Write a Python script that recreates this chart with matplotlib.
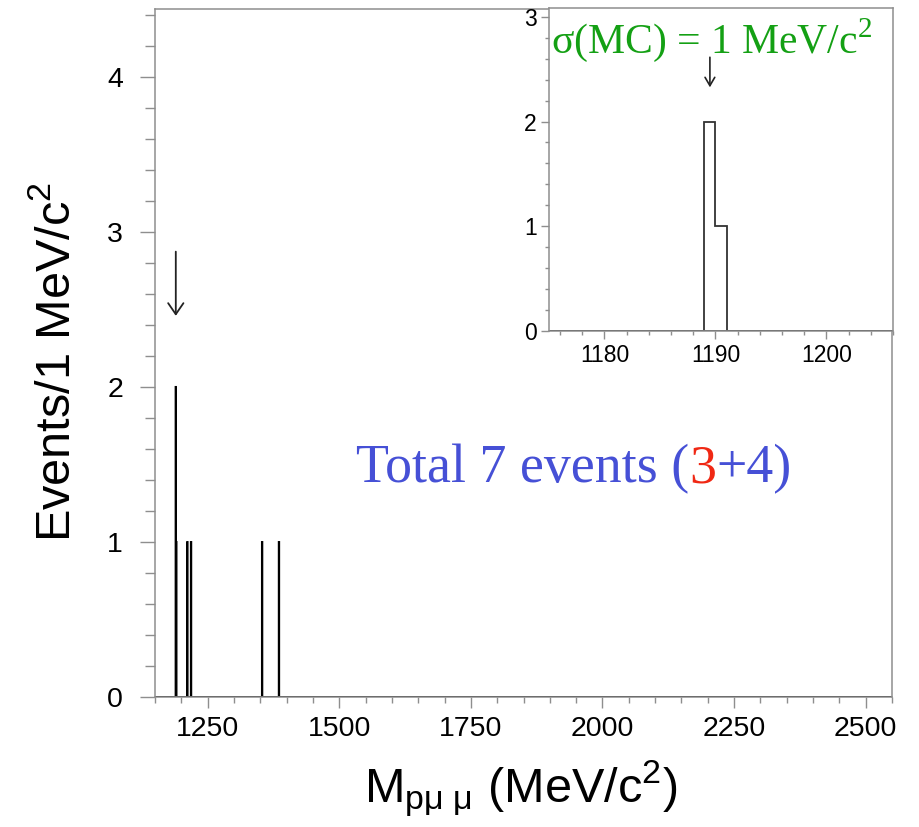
import numpy as np
import matplotlib
matplotlib.use('Agg')
import matplotlib.pyplot as plt
from matplotlib import transforms
from matplotlib.ticker import MultipleLocator

# reconstructed event masses (MeV/c^2)
masses = [1189.3, 1189.7, 1190.4, 1211.5, 1218.5, 1353.5, 1385.5]

main_range = (1150, 2550)
inset_range = (1175, 1206)
main_xticks = [1250, 1500, 1750, 2000, 2250, 2500]
main_yticks = [0, 1, 2, 3, 4]
inset_xticks = [1180, 1190, 1200]
inset_yticks = [0, 1, 2, 3]

W, H = 919, 827
frame_col = '#8e8e8e'

plt.rcParams['font.family'] = ['Liberation Sans', 'DejaVu Sans']
plt.rcParams['mathtext.fontset'] = 'custom'
plt.rcParams['mathtext.rm'] = 'Liberation Sans'
plt.rcParams['mathtext.it'] = 'Liberation Sans:italic'

fig = plt.figure(figsize=(W / 100, H / 100), dpi=100)

def px_axes(l, t, r, b):
    return fig.add_axes([l / W, 1 - b / H, (r - l) / W, (b - t) / H])

def style_frame(ax, labsize, majlen, minlen, pad):
    for s in ax.spines.values():
        s.set_color(frame_col)
        s.set_linewidth(1.1)
    ax.tick_params(which='both', direction='out', color=frame_col, width=1.0,
                   labelsize=labsize, pad=pad)
    ax.tick_params(which='major', length=majlen)
    ax.tick_params(which='minor', length=minlen)
    ax.tick_params(top=False, right=False)


# main histogram
ax = px_axes(155, 8.5, 892, 697)
edges = np.arange(main_range[0], main_range[1] + 1, 1)
counts, _ = np.histogram(masses, bins=edges)
ax.stairs(counts, edges, color='black', lw=1.3, baseline=None)
ax.plot([edges[0], edges[-1]], [0, 0], color='black', lw=1.3)
ax.set_xlim(*main_range)
ax.set_ylim(0, 4.44)
ax.set_xticks(main_xticks)
ax.set_yticks(main_yticks)
ax.xaxis.set_minor_locator(MultipleLocator(50))
ax.yaxis.set_minor_locator(MultipleLocator(0.2))
style_frame(ax, 20.5, 8, 4.5, 6)
ax.tick_params(axis='y', which='major', length=11)
ax.tick_params(axis='y', which='minor', length=7)
ax.tick_params(axis='y', pad=12)

ax.annotate('', xy=(1189.5, 2.44), xytext=(1189.5, 2.89),
            arrowprops=dict(arrowstyle='->,head_length=0.8,head_width=0.55',
                            lw=1.3, color='#222222'))

fig.text(70 / W, 1 - 361.5 / H, r'Events/1 MeV/c$^{\mathregular{2}}$',
         rotation=90, rotation_mode='anchor', ha='center', va='baseline',
         fontsize=35)
fig.text(520.5 / W, 1 - 802 / H,
         r'M$_{\mathregular{p\mu\ \mu}}$ (MeV/c$^{\mathregular{2}}$)',
         ha='center', va='baseline', fontsize=35)

# coloured summary text
renderer = fig.canvas.get_renderer()
tr = fig.transFigure
x0, y0 = 356 / W, 1 - 482.7 / H
for s, c in [('Total 7 events (', '#4650d6'), ('3', '#f02814'), ('+4)', '#4650d6')]:
    t = fig.text(x0, y0, s, color=c, transform=tr, va='baseline',
                 fontsize=38.8, family='Liberation Serif')
    t.draw(renderer)
    ex = t.get_window_extent(renderer)
    tr = transforms.offset_copy(t.get_transform(), fig=fig, x=ex.width, units='dots')

# inset zoom on the peak
axi = px_axes(549, 8.4, 893, 331)
edges_i = np.arange(inset_range[0], inset_range[1] + 1, 1)
counts_i, _ = np.histogram(masses, bins=edges_i)
axi.stairs(counts_i, edges_i, color='#333333', lw=1.3, baseline=None)
axi.plot([edges_i[0], edges_i[-1]], [0, 0], color='#333333', lw=1.3)
axi.set_xlim(*inset_range)
axi.set_ylim(0, 3.08)
axi.set_xticks(inset_xticks)
axi.set_yticks(inset_yticks)
axi.xaxis.set_minor_locator(MultipleLocator(2))
axi.yaxis.set_minor_locator(MultipleLocator(0.2))
style_frame(axi, 16.5, 6, 3, 3)

axi.annotate('', xy=(1189.5, 2.30), xytext=(1189.5, 2.64),
             arrowprops=dict(arrowstyle='->,head_length=0.6,head_width=0.35',
                             lw=1.2, color='#222222'))
fig.text(551 / W, 1 - 53 / H, r'σ(MC) = 1 MeV/c$^{\mathregular{2}}$', color='#14a014',
         fontsize=30, family='Liberation Serif', va='baseline')

fig.savefig('out.png', dpi=100)
